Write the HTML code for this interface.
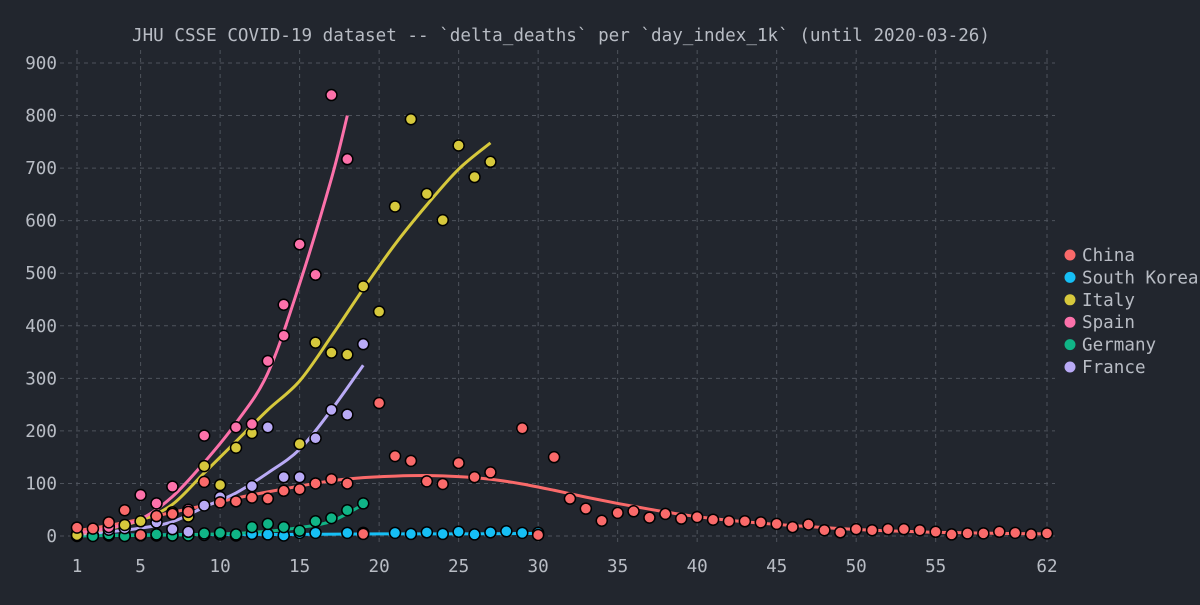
<!DOCTYPE html>
<html><head><meta charset="utf-8"><style>
html,body{margin:0;padding:0;background:#22262e;overflow:hidden;}
svg text{font-family:"DejaVu Sans Mono","Liberation Mono",monospace;fill:#b8bcc4;}
</style></head><body>
<svg id="chart" width="1200" height="600" xmlns="http://www.w3.org/2000/svg">
<rect width="1200" height="600" fill="#22262e"/>
<text x="561" y="41" font-size="17.6" text-anchor="middle">JHU CSSE COVID-19 dataset -- `delta_deaths` per `day_index_1k` (until 2020-03-26)</text>
<g id="grid"></g><g id="axes"></g><g id="lines"></g><g id="points"></g><g id="legend"></g>
</svg>
<script>
const xTicks = [1,5,10,15,20,25,30,35,40,45,50,55,62];
const yTicks = [0,100,200,300,400,500,600,700,800,900];
const seriesNames = ["China","South Korea","Italy","Spain","Germany","France"];
const seriesColors = ["#fa6a6a","#16bff5","#d6c83c","#fc71aa","#10b486","#b9aaf6"];
const chinaX = [1,2,3,4,5,6,7,8,9,10,11,12,13,14,15,16,17,18,19,20,21,22,23,24,25,26,27,29,30,31,32,33,34,35,36,37,38,39,40,41,42,43,44,45,46,47,48,49,50,51,52,53,54,55,56,57,58,59,60,61,62];
const chinaY = [16,14,26,49,2,38,42,46,103,64,66,73,71,86,89,100,108,100,4,253,152,143,104,99,139,112,121,205,2,150,71,52,29,44,47,35,42,33,36,31,28,28,26,23,17,22,11,7,13,11,13,13,11,8,3,5,5,8,6,3,5];
const koreaX = [1,2,3,4,5,6,7,8,9,10,11,12,13,14,15,16,18,19,21,22,23,24,25,26,27,28,29,30];
const koreaY = [2,1,1,1,1,1,1,2,2,3,1,4,3,1,6,6,6,6,6,4,7,4,8,3,7,9,6,6];
const italyX = [1,3,4,5,6,7,8,9,10,11,12,15,16,17,18,19,20,21,22,23,24,25,26,27];
const italyY = [2,18,21,28,38,45,37,133,97,168,196,175,368,349,345,475,427,627,793,651,601,743,683,712];
const spainX = [3,5,6,7,8,9,11,12,13,14,14,15,16,17,18];
const spainY = [17,78,62,94,50,191,207,213,333,381,440,555,497,839,717];
const germanyX = [1,2,3,4,5,6,7,8,9,10,11,12,13,14,15,16,17,18,19];
const germanyY = [0,0,3,0,2,3,1,1,5,6,3,17,23,17,10,28,34,49,62];
const franceX = [1,3,4,6,7,8,9,10,12,13,14,15,16,17,18,19];
const franceY = [4,12,15,26,13,8,58,74,95,207,112,112,186,240,231,365];
const chinaFitX = [1,3,5,7,9,11,13,15,17,19,21,23,25,27,29,31,33,35,37,39,41,43,45,47,49,51,53,55,57,59,62];
const chinaFit = [10,20,32,45,58,72,84,95,105,111,114,115,113,108,99,87,74,62,51,41,33,27,22,18,14,11,9,7,6,5,4];
const koreaFitX = [1,5,10,15,20,25,30];
const koreaFit = [1,2,3,3,4,4,5];
const italyFitX = [1,3,5,7,9,11,13,15,17,19,21,23,25,27];
const italyFit = [4,14,30,60,120,180,240,295,380,470,555,630,698,748];
const spainFitX = [1,3,5,7,9,11,13,15,17,18];
const spainFit = [5,15,32,75,140,215,310,480,680,800];
const germanyFitX = [1,3,5,7,9,11,13,15,17,19];
const germanyFit = [0,1,1,2,3,5,9,16,28,60];
const franceFitX = [1,3,5,7,9,11,13,15,17,19];
const franceFit = [3,8,15,27,55,82,120,165,240,325];

const X0=77, X1=1047, Y0=536, Y900=63;
const sx = v => X0 + (v-1)*(X1-X0)/61;
const sy = v => Y0 - v*(Y0-Y900)/900;
const NS="http://www.w3.org/2000/svg";
function mk(tag, parent){const e=document.createElementNS(NS,tag);document.getElementById(parent).appendChild(e);return e;}

for(const t of yTicks){
  const l=mk('line','grid');
  
  
  l.setAttribute('x1',60);l.setAttribute('x2',1055);l.setAttribute('y1',sy(t));l.setAttribute('y2',sy(t));
  l.setAttribute('stroke','#4e535c');l.setAttribute('stroke-dasharray','4,4');
  const tx=mk('text','axes');
  
  
  tx.setAttribute('x',57);tx.setAttribute('y',sy(t)+6);tx.setAttribute('text-anchor','end');tx.setAttribute('font-size','17.6');
  tx.textContent=t;
}
for(const t of xTicks){
  const l=mk('line','grid');
  
  
  l.setAttribute('x1',sx(t));l.setAttribute('x2',sx(t));l.setAttribute('y1',50);l.setAttribute('y2',546);
  l.setAttribute('stroke','#4e535c');l.setAttribute('stroke-dasharray','4,4');
  const tx=mk('text','axes');
  
  
  tx.setAttribute('x',sx(t));tx.setAttribute('y',572);tx.setAttribute('text-anchor','middle');tx.setAttribute('font-size','17.6');
  tx.textContent=t;
}
function smooth(pts){
  let d=`M${pts[0][0]},${pts[0][1]}`;
  for(let i=0;i<pts.length-1;i++){
    const p0=pts[i-1]||pts[i],p1=pts[i],p2=pts[i+1],p3=pts[i+2]||p2;
    const c1=[p1[0]+(p2[0]-p0[0])/6,p1[1]+(p2[1]-p0[1])/6],c2=[p2[0]-(p3[0]-p1[0])/6,p2[1]-(p3[1]-p1[1])/6];
    d+=` C${c1[0]},${c1[1]} ${c2[0]},${c2[1]} ${p2[0]},${p2[1]}`;
  }
  return d;
}
const fits=[chinaFit,koreaFit,italyFit,spainFit,germanyFit,franceFit];
const fitXs=[chinaFitX,koreaFitX,italyFitX,spainFitX,germanyFitX,franceFitX];
const lineNames=["china-fit-line","south-korea-fit-line","italy-fit-line","spain-fit-line","germany-fit-line","france-fit-line"];
for(const i of [0,1,4,5,2,3]){
  const pts=fits[i].map((v,k)=>[sx(fitXs[i][k]),sy(v)]);
  const p=mk('path','lines');
  
  
  p.setAttribute('d',smooth(pts));p.setAttribute('fill','none');p.setAttribute('stroke',seriesColors[i]);p.setAttribute('stroke-width','3');
}
const pxs=[chinaX,koreaX,italyX,spainX,germanyX,franceX], pys=[chinaY,koreaY,italyY,spainY,germanyY,franceY];
const ptNames=["china-point","south-korea-point","italy-point","spain-point","germany-point","france-point"];
for(const i of [1,4,5,2,3,0]){
  pxs[i].forEach((x,k)=>{
    const c=mk('circle','points');
    
    
    c.setAttribute('cx',sx(x));c.setAttribute('cy',sy(pys[i][k]));c.setAttribute('r','5.5');
    c.setAttribute('fill',seriesColors[i]);c.setAttribute('stroke','#000');c.setAttribute('stroke-width','1.5');
  });
}
seriesNames.forEach((n,i)=>{
  const y=255+i*22.4;
  const c=mk('circle','legend');
  
  
  c.setAttribute('cx',1070);c.setAttribute('cy',y);c.setAttribute('r','5.5');c.setAttribute('fill',seriesColors[i]);
  const t=mk('text','legend');
  
  
  t.setAttribute('x',1082);t.setAttribute('y',y+6);t.setAttribute('font-size','17.6');
  t.textContent=n;
});
</script>
</body></html>
